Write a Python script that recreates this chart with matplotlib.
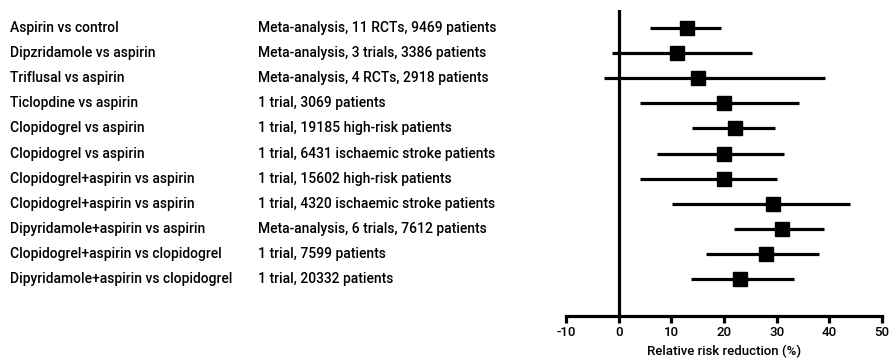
import matplotlib
matplotlib.use("Agg")
import matplotlib.pyplot as plt
from matplotlib.transforms import blended_transform_factory

comparisons = [
    "Aspirin vs control",
    "Dipzridamole vs aspirin",
    "Triflusal vs aspirin",
    "Ticlopdine vs aspirin",
    "Clopidogrel vs aspirin",
    "Clopidogrel vs aspirin",
    "Clopidogrel+aspirin vs aspirin",
    "Clopidogrel+aspirin vs aspirin",
    "Dipyridamole+aspirin vs aspirin",
    "Clopidogrel+aspirin vs clopidogrel",
    "Dipyridamole+aspirin vs clopidogrel",
]
evidence = [
    "Meta-analysis, 11 RCTs, 9469 patients",
    "Meta-analysis, 3 trials, 3386 patients",
    "Meta-analysis, 4 RCTs, 2918 patients",
    "1 trial, 3069 patients",
    "1 trial, 19185 high-risk patients",
    "1 trial, 6431 ischaemic stroke patients",
    "1 trial, 15602 high-risk patients",
    "1 trial, 4320 ischaemic stroke patients",
    "Meta-analysis, 6 trials, 7612 patients",
    "1 trial, 7599 patients",
    "1 trial, 20332 patients",
]
rrr = [13, 11, 15, 20, 22, 20, 20, 29.3, 31, 28, 23]
ci_low = [6, -1.3, -2.8, 4.1, 13.9, 7.3, 4.0, 10.1, 21.9, 16.6, 13.8]
ci_high = [19.5, 25.3, 39.2, 34.2, 29.6, 31.3, 30.1, 44.0, 39.0, 38.1, 33.3]
x_ticks = [-10, 0, 10, 20, 30, 40, 50]

plt.rcParams["font.family"] = ["Roboto", "DejaVu Sans"]

W, H = 892, 359
fig = plt.figure(figsize=(W / 100, H / 100), dpi=100)
ax = fig.add_axes([566 / W, 43 / H, (882 - 566) / W, (316 - 10) / H])

rows = list(range(len(comparisons)))
for y, est, lo, hi in zip(rows, rrr, ci_low, ci_high):
    ax.plot([lo, hi], [y, y], color="black", lw=2.3, solid_capstyle="butt", zorder=2)
    ax.plot([est], [y], marker="s", ms=10, color="black", zorder=3)

ax.axvline(0, color="black", lw=2.3, zorder=1)

ax.set_xlim(-10, 50)
ax.set_ylim(11.47, -0.72)
ax.set_xticks(x_ticks)
ax.set_xticklabels([str(t) for t in x_ticks], fontsize=9.5, fontweight="medium")
ax.set_yticks([])
for side in ("top", "right", "left"):
    ax.spines[side].set_visible(False)
ax.spines["bottom"].set_linewidth(2.3)
ax.tick_params(axis="x", length=5, width=2.3, pad=2)
ax.set_xlabel("Relative risk reduction (%)", fontsize=9.5, fontweight="medium", labelpad=4)

trans = blended_transform_factory(fig.transFigure, ax.transData)
for y, name, ev in zip(rows, comparisons, evidence):
    ax.text(10 / W, y, name, transform=trans, ha="left", va="center",
            fontsize=10, fontweight="medium")
    ax.text(258 / W, y, ev, transform=trans, ha="left", va="center",
            fontsize=10, fontweight="medium")

fig.savefig("out.png", dpi=100)
